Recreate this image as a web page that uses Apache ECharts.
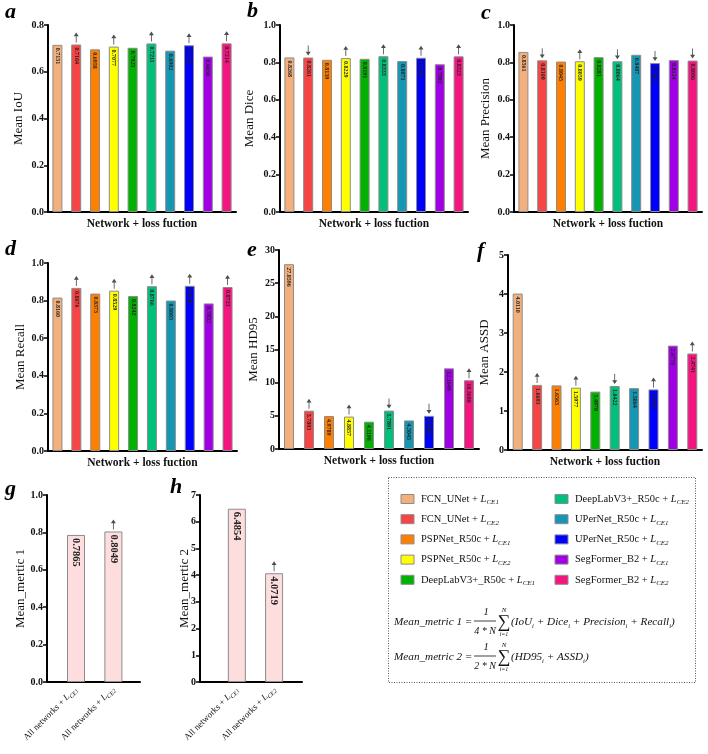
<!DOCTYPE html>
<html><head><meta charset="utf-8">
<script src="https://cdn.jsdelivr.net/npm/echarts@6/dist/echarts.min.js"></script>
<style>html,body{margin:0;padding:0;background:#fff}#c{width:708px;height:754px}</style>
</head><body><div id="c"></div>
<script>
// ---------- data ----------
const networks = ['FCN_UNet','FCN_UNet','PSPNet_R50c','PSPNet_R50c','DeepLabV3+_R50c','DeepLabV3+_R50c','UPerNet_R50c','UPerNet_R50c','SegFormer_B2','SegFormer_B2'];
const losses = ['CE1','CE2','CE1','CE2','CE1','CE2','CE1','CE2','CE1','CE2'];
const categories = networks.map((n, i) => n + ' + L' + losses[i]);

const meanIoU       = [0.7151, 0.7164, 0.6958, 0.7077, 0.7025, 0.7211, 0.6902, 0.7135, 0.6650, 0.7214];
const meanDice      = [0.8268, 0.8261, 0.8139, 0.8229, 0.8191, 0.8333, 0.8071, 0.8249, 0.7902, 0.8323];
const meanPrecision = [0.8561, 0.8109, 0.8045, 0.8059, 0.8281, 0.8064, 0.8407, 0.7963, 0.8124, 0.8096];
const meanRecall    = [0.8160, 0.8676, 0.8373, 0.8529, 0.8242, 0.8766, 0.8003, 0.8787, 0.7852, 0.8723];
const meanHD95      = [27.8596, 5.7803, 4.9789, 4.8857, 4.1198, 5.7891, 4.3045, 4.9980, 12.1649, 10.3690];
const meanASSD      = [4.0110, 1.6693, 1.6563, 1.5977, 1.4970, 1.6422, 1.5864, 1.5535, 2.6770, 2.4741];

// arrow marks: 1 = up, -1 = down, 0 = none
const arrowsIoU       = [0, 1, 0, 1, 0, 1, 0, 1, 0, 1];
const arrowsDice      = [0,-1, 0, 1, 0, 1, 0, 1, 0, 1];
const arrowsPrecision = [0,-1, 0, 1, 0,-1, 0,-1, 0,-1];
const arrowsRecall    = [0, 1, 0, 1, 0, 1, 0, 1, 0, 1];
const arrowsHD95      = [0, 1, 0, 1, 0,-1, 0,-1, 0, 1];
const arrowsASSD      = [0, 1, 0, 1, 0,-1, 0, 1, 0, 1];

const summaryLosses  = ['CE1', 'CE2'];
const meanMetric1    = [0.7865, 0.8049];
const meanMetric2    = [6.4854, 4.0719];
const arrowsMetric1  = [0, 1];
const arrowsMetric2  = [0, 1];

// ---------- styling ----------
const FONT = '"Liberation Serif","DejaVu Serif",serif';
const colors = ['#F3B07C','#F74444','#FF8000','#FFFF00','#00B300','#00C07C','#1597B3','#0000FF','#A100E6','#F5157F'];
const UP = 'path://M3,0L6,4.5H3.5V12H2.5V4.5H0Z';
const DOWN = 'path://M2.5,0H3.5V7.5H6L3,12L0,7.5H2.5Z';

const panels = [
  {letter:'a', vals:meanIoU, arr:arrowsIoU, name:'Mean IoU', max:0.8, interval:0.2, dec:1, grid:{left:48,top:25,width:188,height:187}, nameGap:23, lx:5, ly:12},
  {letter:'b', vals:meanDice, arr:arrowsDice, name:'Mean Dice', max:1, interval:0.2, dec:1, grid:{left:280,top:25,width:188,height:187}, nameGap:24, lx:247, ly:11},
  {letter:'c', vals:meanPrecision, arr:arrowsPrecision, name:'Mean Precision', max:1, interval:0.2, dec:1, grid:{left:514,top:25,width:188,height:187}, nameGap:22, lx:481, ly:13},
  {letter:'d', vals:meanRecall, arr:arrowsRecall, name:'Mean Recall', max:1, interval:0.2, dec:1, grid:{left:48,top:263,width:189,height:188}, nameGap:21, lx:5, ly:249},
  {letter:'e', vals:meanHD95, arr:arrowsHD95, name:'Mean HD95', max:30, interval:5, dec:0, grid:{left:279,top:250,width:200,height:199}, nameGap:19, lx:247, ly:250},
  {letter:'f', vals:meanASSD, arr:arrowsASSD, name:'Mean ASSD', max:5, interval:1, dec:0, grid:{left:508,top:255,width:194,height:195}, nameGap:17, lx:477, ly:251}
];

const grid = [], xAxis = [], yAxis = [], series = [], graphic = [];

const yAxisCommon = (p, i) => ({
  type:'value', gridIndex:i, min:0, max:p.max, interval:p.interval,
  axisLine:{show:true, lineStyle:{color:'#000', width:2}},
  axisTick:{show:true, length:4, lineStyle:{color:'#000', width:1.5}},
  splitLine:{show:false},
  axisLabel:{fontFamily:FONT, fontSize:10, fontWeight:'bold', color:'#111', margin:4,
    formatter:v => v.toFixed(p.dec)},
  name:p.name, nameLocation:'middle', nameGap:p.nameGap, nameMoveOverlap:false,
  nameTextStyle:{fontFamily:FONT, fontSize:13, color:'#111'}
});

panels.forEach((p, i) => {
  grid.push(p.grid);
  xAxis.push({
    type:'category', gridIndex:i, data:categories,
    axisLine:{lineStyle:{color:'#000', width:2}}, axisTick:{show:false}, axisLabel:{show:false},
    name:'Network + loss fuction', nameLocation:'middle', nameGap:6,
    nameTextStyle:{fontFamily:FONT, fontSize:11.5, fontWeight:'bold', color:'#111', verticalAlign:'top'}
  });
  yAxis.push(yAxisCommon(p, i));
  series.push({
    type:'bar', xAxisIndex:i, yAxisIndex:i, barWidth:10,
    data:p.vals.map((v, j) => ({value:v, itemStyle:{color:colors[j]}})),
    itemStyle:{borderColor:'#8c8c8c', borderWidth:1},
    label:{show:true, position:'insideTop', rotate:-90, align:'left', verticalAlign:'middle', distance:3,
      fontFamily:FONT, fontSize:6, fontWeight:'bold', color:'#222', formatter:q => q.value.toFixed(4)}
  });
  series.push({
    type:'scatter', xAxisIndex:i, yAxisIndex:i, symbolSize:[5,10], symbolOffset:[0,-7],
    itemStyle:{color:'#222'}, silent:true, z:5,
    data:p.vals.map((v, j) => p.arr[j] ? {value:[categories[j], v], symbol:p.arr[j] > 0 ? UP : DOWN} : null).filter(Boolean)
  });
  graphic.push({type:'text', x:p.lx, y:p.ly, style:{text:p.letter, fontFamily:FONT, fontSize:22, fontStyle:'italic', fontWeight:'bold', fill:'#000', textVerticalAlign:'middle'}});
});

// summary panels g, h
const sumPanels = [
  {letter:'g', vals:meanMetric1, arr:arrowsMetric1, name:'Mean_mertic 1', max:1, interval:0.2, dec:1, grid:{left:47,top:495,width:93,height:187}, nameGap:20, xmin:0.224, xmax:2.712, lx:5, ly:489},
  {letter:'h', vals:meanMetric2, arr:arrowsMetric2, name:'Mean_mertic 2', max:7, interval:1, dec:0, grid:{left:200,top:495,width:102,height:187}, nameGap:9, xmin:0.01, xmax:2.75, lx:170, ly:487}
];
const xRich = {
  t:{fontFamily:FONT, fontSize:9, color:'#111', lineHeight:12},
  l:{fontFamily:FONT, fontSize:9, fontStyle:'italic', color:'#111', lineHeight:12},
  s:{fontFamily:FONT, fontSize:6, fontStyle:'italic', color:'#111', verticalAlign:'bottom', lineHeight:12}
};
sumPanels.forEach((p, k) => {
  const i = panels.length + k;
  grid.push(p.grid);
  xAxis.push({
    type:'value', gridIndex:i, min:p.xmin, max:p.xmax,
    axisLine:{show:true, lineStyle:{color:'#000', width:2}}, axisTick:{show:false}, splitLine:{show:false},
    axisLabel:{customValues:[1,2], rotate:45, margin:6, rich:xRich,
      formatter:v => '{t|All networks + }{l|L}{s|' + summaryLosses[Math.round(v) - 1] + '}'}
  });
  yAxis.push(yAxisCommon(p, i));
  series.push({
    type:'bar', xAxisIndex:i, yAxisIndex:i, barWidth:18,
    data:p.vals.map((v, j) => [j + 1, v]),
    itemStyle:{color:'#FDDDDD', borderColor:'#8c8c8c', borderWidth:1},
    label:{show:true, position:'insideTop', rotate:-90, align:'left', verticalAlign:'middle', distance:3,
      fontFamily:FONT, fontSize:10.5, fontWeight:'bold', color:'#222', formatter:q => q.value[1].toFixed(4)}
  });
  series.push({
    type:'scatter', xAxisIndex:i, yAxisIndex:i, symbolSize:[5,10], symbolOffset:[0,-7],
    itemStyle:{color:'#222'}, silent:true, z:5,
    data:p.vals.map((v, j) => p.arr[j] ? {value:[j + 1, v], symbol:p.arr[j] > 0 ? UP : DOWN} : null).filter(Boolean)
  });
  graphic.push({type:'text', x:p.lx, y:p.ly, style:{text:p.letter, fontFamily:FONT, fontSize:22, fontStyle:'italic', fontWeight:'bold', fill:'#000', textVerticalAlign:'middle'}});
});

// legend box
graphic.push({type:'rect', shape:{x:388.5, y:477.5, width:307, height:205}, style:{fill:'none', stroke:'#555', lineWidth:1, lineDash:[1,1.5]}});
const legRich = {
  t:{fontFamily:FONT, fontSize:10.5, fill:'#111', lineHeight:14},
  l:{fontFamily:FONT, fontSize:10.5, fontStyle:'italic', fill:'#111', lineHeight:14},
  s:{fontFamily:FONT, fontSize:7, fontStyle:'italic', fill:'#111', verticalAlign:'bottom', lineHeight:14}
};
categories.forEach((c, i) => {
  const col = i < 5 ? 0 : 1, row = i % 5;
  const sx = 401 + col * 154, cy = 499 + row * 20.2;
  graphic.push({type:'rect', shape:{x:sx, y:cy - 4.5, width:13, height:9}, style:{fill:colors[i], stroke:'#8c8c8c', lineWidth:1}});
  graphic.push({type:'text', x:sx + 20, y:cy, style:{text:'{t|' + networks[i] + ' + }{l|L}{s|' + losses[i] + '}', rich:legRich, textVerticalAlign:'middle'}});
});

// formulas
const fStyle = (extra) => Object.assign({fontFamily:FONT, fontStyle:'italic', fill:'#111', fontSize:11.2, textVerticalAlign:'middle'}, extra);
const fRich = {
  t:{fontFamily:FONT, fontSize:11.2, fontStyle:'italic', fill:'#111', lineHeight:15},
  s:{fontFamily:FONT, fontSize:6.5, fontStyle:'italic', fill:'#111', verticalAlign:'bottom', lineHeight:15}
};
function formula(y, label, denom, terms) {
  graphic.push({type:'text', x:394, y:y, style:fStyle({text:label})});
  graphic.push({type:'text', x:486, y:y - 10, style:fStyle({text:'1', textAlign:'center', fontSize:10.5})});
  graphic.push({type:'line', shape:{x1:474, y1:y - 1, x2:496, y2:y - 1}, style:{stroke:'#111', lineWidth:0.8}});
  graphic.push({type:'text', x:485, y:y + 9, style:fStyle({text:denom, textAlign:'center', fontSize:10})});
  graphic.push({type:'text', x:504, y:y, style:{text:'\u2211', fontFamily:FONT, fontSize:18, fill:'#111', textAlign:'center', textVerticalAlign:'middle'}});
  graphic.push({type:'text', x:504, y:y - 12, style:fStyle({text:'N', textAlign:'center', fontSize:7})});
  graphic.push({type:'text', x:504, y:y + 12, style:fStyle({text:'i=1', textAlign:'center', fontSize:6})});
  const txt = '{t|(}' + terms.map(t => '{t|' + t + '}{s|i}').join('{t| + }') + '{t|)}';
  graphic.push({type:'text', x:511, y:y, style:{text:txt, rich:fRich, textVerticalAlign:'middle'}});
}
formula(622, 'Mean_metric 1 =', '4 * N', ['IoU', 'Dice', 'Precision', 'Recall']);
formula(657, 'Mean_metric 2 =', '2 * N', ['HD95', 'ASSD']);

const chart = echarts.init(document.getElementById('c'), null, {renderer:'canvas'});
chart.setOption({backgroundColor:'#fff', animation:false, grid, xAxis, yAxis, series, graphic});
</script>
</body></html>
